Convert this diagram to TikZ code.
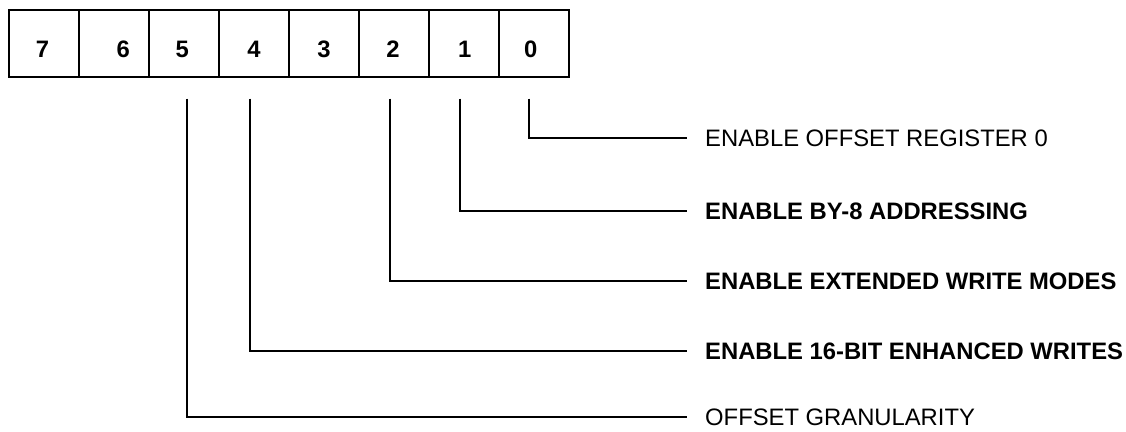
\documentclass[tikz,border=0pt]{standalone}
\usepackage{fontspec}
\setmainfont{Liberation Sans}
\usetikzlibrary{positioning}

\begin{document}
\begin{tikzpicture}[x=1pt, y=-1pt,
    celula/.style={draw, line width=2pt, outer sep=0pt, inner sep=0pt,
        minimum width=69.9pt, minimum height=67pt},
    digito/.style={inner sep=0pt, font=\fontsize{23.8}{28}\selectfont\bfseries},
    rotulo/.style={inner sep=0pt, font=\fontsize{23.8}{28}\selectfont},
    negrito/.style={rotulo, font=\fontsize{23.8}{28}\selectfont\bfseries},
    ligacao/.style={line width=1.3pt}]

    \def\desce{22pt} % Espaco entre o registrador e o inicio das linhas
    \def\gap{18pt}   % Espaco entre o fim da linha e o texto

    % Area total da figura
    \useasboundingbox (0,0) rectangle (1126,431);

    % 1. Registrador de 8 bits (celulas do bit 7 ao bit 0)
    \node[celula] (b7) at (44.4,43) {};
    \node[celula, right=0pt of b7] (b6) {};
    \node[celula, right=0pt of b6] (b5) {};
    \node[celula, right=0pt of b5] (b4) {};
    \node[celula, right=0pt of b4] (b3) {};
    \node[celula, right=0pt of b3] (b2) {};
    \node[celula, right=0pt of b2] (b1) {};
    \node[celula, right=0pt of b1] (b0) {};

    % 2. Numeros dos bits (o 6 fica deslocado para a direita)
    \node[digito] (d7) at ([xshift=-2pt, yshift=-6pt]b7.center) {7};
    \node[digito] (d6) at ([xshift=9pt, yshift=-6pt]b6.center) {6};
    \node[digito] (d5) at ([xshift=-2pt, yshift=-6pt]b5.center) {5};
    \node[digito] (d4) at ([yshift=-6pt]b4.center) {4};
    \node[digito] (d3) at ([yshift=-6pt]b3.center) {3};
    \node[digito] (d2) at ([xshift=-1pt, yshift=-6pt]b2.center) {2};
    \node[digito] (d1) at ([xshift=1pt, yshift=-6pt]b1.center) {1};
    \node[digito] (d0) at ([xshift=-3pt, yshift=-6pt]b0.center) {0};

    % 3. Pontos de saida abaixo das celulas e fim das linhas
    \coordinate (t0) at ([xshift=-4.7pt, yshift=-\desce]b0.south);
    \coordinate (t1) at ([xshift=-3.8pt, yshift=-\desce]b1.south);
    \coordinate (t2) at ([xshift=-3.9pt, yshift=-\desce]b2.south);
    \coordinate (t4) at ([xshift=-4.1pt, yshift=-\desce]b4.south);
    \coordinate (t5) at ([xshift=2.8pt, yshift=-\desce]b5.south);
    \coordinate (e0) at (687,138);
    \coordinate (e1) at (687,211);
    \coordinate (e2) at (687,281);
    \coordinate (e4) at (687,351);
    \coordinate (e5) at (687,417);

    % 4. Descricoes de cada bit
    \node[rotulo, right=\gap of e0] (l0) {ENABLE OFFSET REGISTER 0};
    \node[negrito, right=\gap of e1] (l1) {ENABLE BY-8 ADDRESSING};
    \node[negrito, right=\gap of e2] (l2) {ENABLE EXTENDED WRITE MODES};
    \node[negrito, right=\gap of e4] (l4) {ENABLE 16-BIT ENHANCED WRITES};
    \node[rotulo, right=\gap of e5] (l5) {OFFSET GRANULARITY};

    % 5. Linhas de ligacao
    \draw[ligacao] (t0) |- (e0);
    \draw[ligacao] (t1) |- (e1);
    \draw[ligacao] (t2) |- (e2);
    \draw[ligacao] (t4) |- (e4);
    \draw[ligacao] (t5) |- (e5);

\end{tikzpicture}
\end{document}
